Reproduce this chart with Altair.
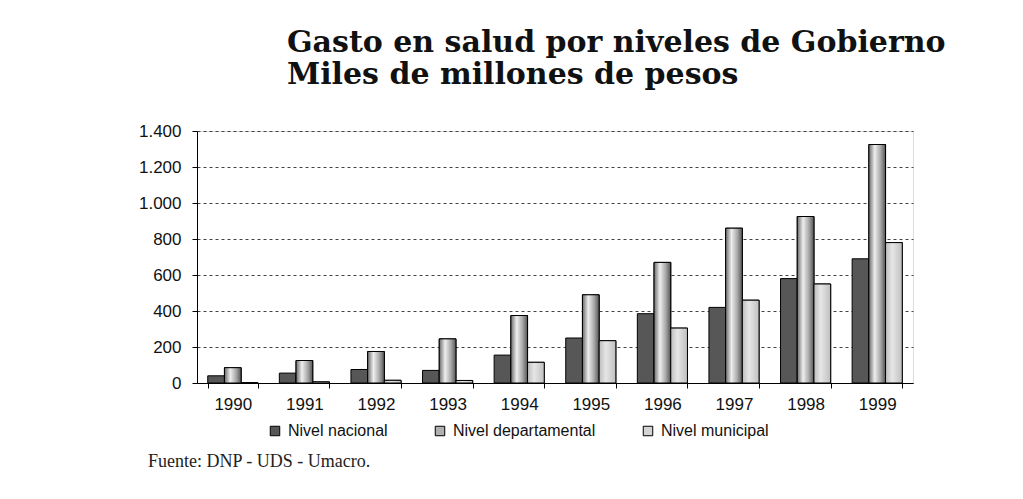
import altair as alt
import pandas as pd

years = ["1990", "1991", "1992", "1993", "1994", "1995", "1996", "1997", "1998", "1999"]
series = ["Nivel nacional", "Nivel departamental", "Nivel municipal"]
nacional = [40, 55, 75, 70, 155, 250, 385, 420, 580, 690]
departamental = [85, 125, 175, 245, 375, 490, 670, 860, 925, 1325]
municipal = [2, 6, 15, 14, 115, 235, 305, 460, 550, 780]
y_ticks = [0, 200, 400, 600, 800, 1000, 1200, 1400]
title_lines = ["Gasto en salud por niveles de Gobierno", "Miles de millones de pesos"]
source_note = "Fuente: DNP - UDS - Umacro."

rows = []
for i, y in enumerate(years):
    rows.append({"year": y, "series": series[0], "value": nacional[i]})
    rows.append({"year": y, "series": series[1], "value": departamental[i]})
    rows.append({"year": y, "series": series[2], "value": municipal[i]})
df = pd.DataFrame(rows)

x_enc = alt.X(
    "year:N",
    sort=years,
    title=None,
    scale=alt.Scale(paddingInner=0.3, paddingOuter=0.15),
    axis=alt.Axis(
        labelAngle=0, tickBand="extent", grid=False, domainColor="#000",
        tickColor="#000", tickSize=5, labelPadding=8,
        labelFont="Liberation Sans", labelFontSize=17, labelColor="#111",
    ),
)
xoff = alt.XOffset("series:N", sort=series, scale=alt.Scale(domain=series))
y_enc = alt.Y(
    "value:Q",
    title=None,
    scale=alt.Scale(domain=[0, 1400], nice=False),
    axis=alt.Axis(
        values=y_ticks, grid=True, gridDash=[3, 3], gridColor="#444",
        domainColor="#000", tickColor="#000", tickSize=5, labelPadding=11,
        labelExpr="replace(format(datum.value, ','), ',', '.')",
        labelFont="Liberation Sans", labelFontSize=17, labelColor="#111",
    ),
)

base = alt.Chart(df).mark_bar(stroke="#000", strokeWidth=1).encode(
    x=x_enc,
    xOffset=xoff,
    y=y_enc,
    color=alt.Color(
        "series:N",
        sort=series,
        scale=alt.Scale(domain=series, range=["#575757", "#b0b0b0", "#d4d4d4"]),
        legend=alt.Legend(
            title=None, orient="none", direction="horizontal",
            legendX=70, legendY=292, columnPadding=44,
            symbolType="square", symbolSize=90, symbolStrokeColor="#000",
            symbolStrokeWidth=1, labelFont="Liberation Sans", labelFontSize=16,
            labelColor="#111", labelOffset=5,
        ),
    ),
)

grad = {
    "gradient": "linear", "x1": 0, "y1": 0, "x2": 1, "y2": 0,
    "stops": [
        {"offset": 0, "color": "#6a6a6a"},
        {"offset": 0.35, "color": "#eeeeee"},
        {"offset": 0.7, "color": "#a8a8a8"},
        {"offset": 1, "color": "#555555"},
    ],
}
dept = alt.Chart(df).transform_filter(
    alt.datum.series == series[1]
).mark_bar(fill=grad, stroke="#000", strokeWidth=1).encode(
    x=x_enc, xOffset=xoff, y=y_enc
)

muni_grad = {
    "gradient": "linear", "x1": 0, "y1": 0, "x2": 1, "y2": 0,
    "stops": [
        {"offset": 0, "color": "#bdbdbd"},
        {"offset": 0.4, "color": "#e6e6e6"},
        {"offset": 1, "color": "#bfbfbf"},
    ],
}
muni = alt.Chart(df).transform_filter(
    alt.datum.series == series[2]
).mark_bar(fill=muni_grad, stroke="#000", strokeWidth=1).encode(
    x=x_enc, xOffset=xoff, y=y_enc
)

note = alt.Chart(pd.DataFrame({"t": [source_note]})).mark_text(
    align="left", baseline="alphabetic", font="Liberation Serif", fontSize=18, color="#222"
).encode(x=alt.value(-49), y=alt.value(336), text="t:N")

chart = alt.layer(base, dept, muni, note).properties(
    width=716,
    height=252,
    autosize=alt.AutoSizeParams(type="none"),
    padding={"left": 189, "top": 123, "right": 95, "bottom": 100},
    title=alt.TitleParams(
        text=title_lines, anchor="start", frame="group", dx=90, offset=32,
        font="DejaVu Serif", fontSize=30, fontWeight="bold", color="#111",
        lineHeight=32,
    ),
).configure_view(stroke="#888", strokeWidth=1.5).configure(background="white")

chart.save("out.html", embed_options={"renderer": "svg", "actions": False})
